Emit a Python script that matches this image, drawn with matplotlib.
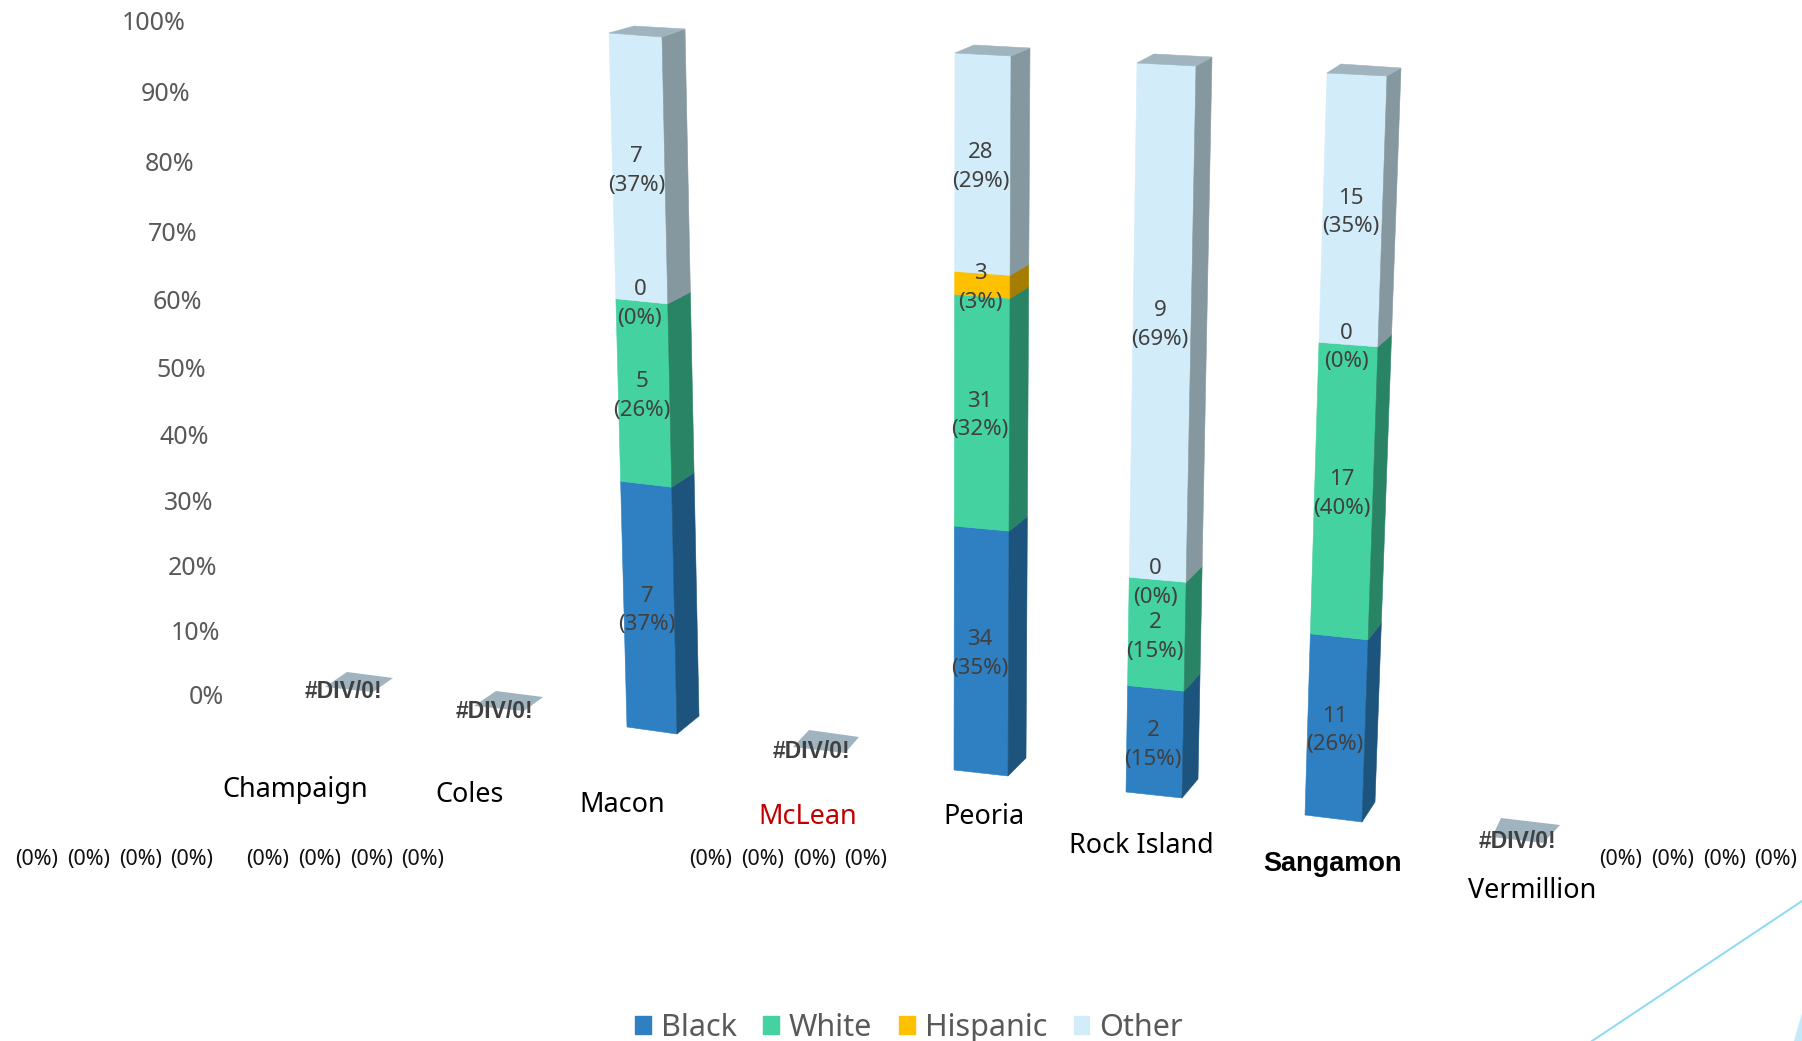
import matplotlib
matplotlib.use('Agg')
import numpy as np
import matplotlib.pyplot as plt
from matplotlib.patches import Patch

plt.rcParams['font.family'] = ['Noto Sans', 'DejaVu Sans']

# data
counties = ['Champaign', 'Coles', 'Macon', 'McLean', 'Peoria', 'Rock Island', 'Sangamon', 'Vermillion']
series = ['Black', 'White', 'Hispanic', 'Other']
black = [0, 0, 7, 0, 34, 2, 11, 0]
white = [0, 0, 5, 0, 31, 2, 17, 0]
hispanic = [0, 0, 0, 0, 3, 0, 0, 0]
other = [0, 0, 7, 0, 28, 9, 15, 0]
y_ticks = [0, 10, 20, 30, 40, 50, 60, 70, 80, 90, 100]

# colours: front, side
front_colors = ['#2E80C2', '#44D2A0', '#FFC000', '#D3ECFA']
side_colors = ['#1C547E', '#298465', '#A67D00', '#86989F']
top_color = '#9FB4BF'
label_color = '#404040'
tick_color = '#595959'
bold_font = 'Liberation Sans'

# layout of the fake 3d boxes, in pixels (x, y)
# base front left, base front right, base back right, top front left, top front right, top back right, top back left
boxes = {
    'Macon': [(627, 727), (677, 734), (699, 716), (609, 33), (662, 37), (685, 29), (634, 26)],
    'Peoria': [(954, 770), (1008, 776), (1026, 758), (955, 53), (1011, 56), (1030, 48), (974, 45)],
    'Rock Island': [(1126, 792), (1182, 798), (1198, 779), (1137, 63), (1196, 66), (1212, 57), (1154, 54)],
    'Sangamon': [(1305, 815), (1362, 822), (1375, 802), (1327, 73), (1387, 76), (1401, 68), (1341, 64)],
}
# flat plates for the counties with no data: back left, back right, front right, front left
plates = {
    'Champaign': [(347, 672), (393, 678), (373, 692), (325, 687)],
    'Coles': [(496, 691), (543, 697), (524, 711), (474, 706)],
    'McLean': [(809, 730), (859, 737), (845, 753), (793, 747)],
    'Vermillion': [(1501, 818), (1560, 825), (1543, 843), (1492, 837)],
}
div_label_pos = {'Champaign': (343, 692), 'Coles': (494, 711), 'McLean': (811, 752), 'Vermillion': (1517, 842)}
county_label_pos = [(295, 790), (470, 795), (622, 805), (808, 817), (984, 817), (1141, 846), (1332, 864), (1532, 891)]
zero_label_start = {'Champaign': 37, 'Coles': 268, 'McLean': 711, 'Vermillion': 1621}
perspective = 0.94


def project(f):
    # share of the column -> share of the drawn height
    return f * perspective / (f * perspective + (1 - f))


def lerp(a, b, t):
    return (a[0] + (b[0] - a[0]) * t, a[1] + (b[1] - a[1]) * t)


fig = plt.figure(figsize=(18.02, 10.41), dpi=100)
ax = fig.add_axes([0, 0, 1, 1])
ax.set_xlim(0, 1802)
ax.set_ylim(1041, 0)
ax.axis('off')

# y axis labels
for v in y_ticks:
    t = project(v / 100)
    ax.text(224 - 38 * t, 697 - 674 * t, '%d%%' % v, ha='right', va='center', fontsize=18, color=tick_color)

values = np.array([black, white, hispanic, other], dtype=float)
totals = values.sum(axis=0)

for i, county in enumerate(counties):
    if totals[i] == 0:
        p = np.array(plates[county])
        ax.fill(p[:, 0], p[:, 1], color=top_color, lw=0, zorder=2)
        ax.text(div_label_pos[county][0], div_label_pos[county][1], '#DIV/0!', ha='center', va='center',
                fontsize=16.5, family=bold_font, fontweight='bold', color=label_color, zorder=5)
        for k in range(len(series)):
            ax.text(zero_label_start[county] + k * 51.7, 860, '(%d%%)' % values[k, i], ha='center', va='center',
                    fontsize=15.5, color='#111111')
        continue

    b0, b1, b2, t0, t1, t2, t3 = boxes[county]
    bottom = 0.0
    for k in range(len(series)):
        v = values[k, i]
        lo = project(bottom / totals[i])
        hi = project((bottom + v) / totals[i])
        fl0, fr0, bk0 = lerp(b0, t0, lo), lerp(b1, t1, lo), lerp(b2, t2, lo)
        fl1, fr1, bk1 = lerp(b0, t0, hi), lerp(b1, t1, hi), lerp(b2, t2, hi)
        if v > 0:
            front = np.array([fl0, fr0, fr1, fl1])
            side = np.array([fr0, bk0, bk1, fr1])
            ax.fill(front[:, 0], front[:, 1], color=front_colors[k], lw=0.4, zorder=3)
            ax.fill(side[:, 0], side[:, 1], color=side_colors[k], lw=0.4, zorder=3)
        cx = (fl0[0] + fr0[0] + fl1[0] + fr1[0]) / 4 - 2
        cy = (fl0[1] + fr0[1] + fl1[1] + fr1[1]) / 4 + 3
        ax.text(cx, cy, '%d\n(%d%%)' % (v, round(v / totals[i] * 100)), ha='center', va='center', fontsize=16,
                color=label_color, linespacing=1.48, zorder=5)
        bottom += v
    top = np.array([t0, t1, t2, t3])
    ax.fill(top[:, 0], top[:, 1], color=top_color, lw=0.4, zorder=3)

# county names
for i, county in enumerate(counties):
    if county == 'Sangamon':
        ax.text(county_label_pos[i][0], county_label_pos[i][1], county, ha='center', va='center', fontsize=19.5,
                color='black', family=bold_font, fontweight='bold')
    else:
        color = '#C00000' if county == 'McLean' else 'black'
        ax.text(county_label_pos[i][0], county_label_pos[i][1], county, ha='center', va='center', fontsize=19.4,
                color=color)

# legend
handles = [Patch(color=c, label=s) for c, s in zip(front_colors, series)]
ax.legend(handles=handles, ncol=4, loc='center', bbox_to_anchor=(909 / 1802, 1 - 1028 / 1041), frameon=False,
          fontsize=22, labelcolor=tick_color, handlelength=0.52, handleheight=0.52, handletextpad=0.32,
          columnspacing=0.87, borderpad=0, borderaxespad=0)

# slide decoration in the corner
ax.plot([1592, 1802], [1041, 901], color='#8FDDF5', lw=1.5, zorder=1)
ax.fill([1802, 1794, 1802], [1013, 1041, 1041], color='#C3EAF8', lw=0, zorder=1)

fig.savefig('out.png', dpi=100)
